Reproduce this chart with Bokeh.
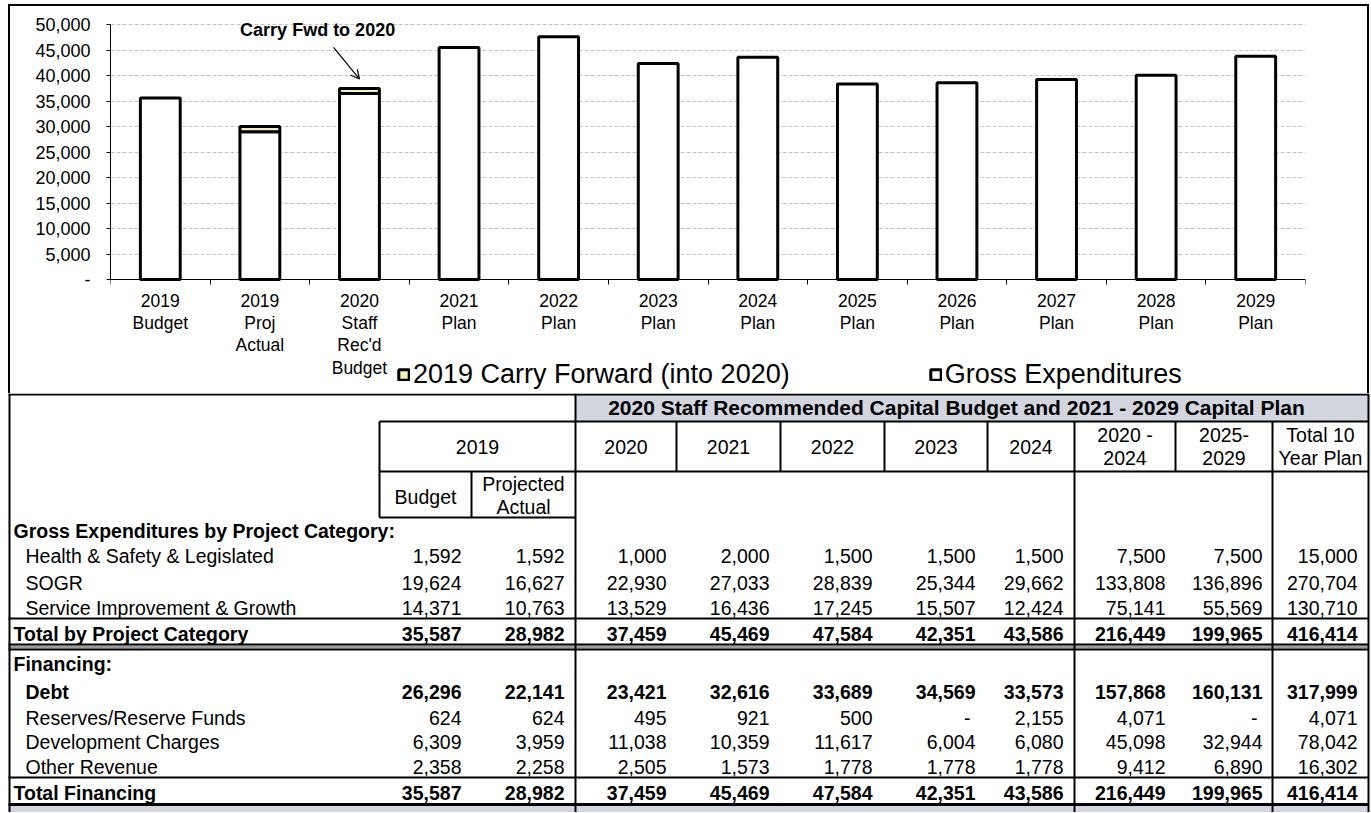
from bokeh.plotting import figure
from bokeh.models import (Range1d, LinearAxis, FixedTicker,
                          NumeralTickFormatter, ColumnDataSource, Legend, LegendItem,
                          Label, Arrow, OpenHead, Grid)
from bokeh.layouts import column
from bokeh.embed import file_html
from bokeh.resources import INLINE
from bokeh.core.properties import value

FONT = "Liberation Sans"

# ---------------- chart data ----------------
categories = ["2019\nBudget", "2019\nProj\nActual", "2020\nStaff\nRec'd\nBudget",
              "2021\nPlan", "2022\nPlan", "2023\nPlan", "2024\nPlan", "2025\nPlan",
              "2026\nPlan", "2027\nPlan", "2028\nPlan", "2029\nPlan"]
gross_expenditures = [35587, 28982, 36459, 45469, 47584, 42351, 43586,
                      38340, 38560, 39230, 40050, 43785]
carry_forward = [0, 1000, 1000, 0, 0, 0, 0, 0, 0, 0, 0, 0]
y_ticks = [0, 5000, 10000, 15000, 20000, 25000, 30000, 35000, 40000, 45000, 50000]
legend_labels = ["2019 Carry Forward (into 2020)", "Gross Expenditures"]
annotation_text = "Carry Fwd to 2020"

# ---------------- table data ----------------
table_title = "2020 Staff Recommended Capital Budget and 2021 - 2029 Capital Plan"
group_2019 = "2019"
sub_2019 = ["Budget", "Projected\nActual"]
plan_columns = ["2020", "2021", "2022", "2023", "2024", "2020 -\n2024", "2025-\n2029",
                "Total 10\nYear Plan"]
section_expenditures = "Gross Expenditures by Project Category:"
section_financing = "Financing:"
health_safety = [1592, 1592, 1000, 2000, 1500, 1500, 1500, 7500, 7500, 15000]
sogr = [19624, 16627, 22930, 27033, 28839, 25344, 29662, 133808, 136896, 270704]
service_improvement = [14371, 10763, 13529, 16436, 17245, 15507, 12424, 75141, 55569, 130710]
total_by_category = [35587, 28982, 37459, 45469, 47584, 42351, 43586, 216449, 199965, 416414]
debt = [26296, 22141, 23421, 32616, 33689, 34569, 33573, 157868, 160131, 317999]
reserves = [624, 624, 495, 921, 500, 0, 2155, 4071, 0, 4071]
development_charges = [6309, 3959, 11038, 10359, 11617, 6004, 6080, 45098, 32944, 78042]
other_revenue = [2358, 2258, 2505, 1573, 1778, 1778, 1778, 9412, 6890, 16302]
total_financing = [35587, 28982, 37459, 45469, 47584, 42351, 43586, 216449, 199965, 416414]

table_rows = [
    ("Health & Safety & Legislated", health_safety, False, True),
    ("SOGR", sogr, False, True),
    ("Service Improvement & Growth", service_improvement, False, True),
    ("Total by Project Category", total_by_category, True, False),
    ("Debt", debt, True, True),
    ("Reserves/Reserve Funds", reserves, False, True),
    ("Development Charges", development_charges, False, True),
    ("Other Revenue", other_revenue, False, True),
    ("Total Financing", total_financing, True, False),
]

# ---------------- sizes ----------------
W = 1370
CH = 393
TH = 419
FRAME_TOP, PLOT_TOP, PLOT_ZERO = 6, 24, 279   # pixel rows: frame top, 50,000 and 0
Y_MAX = 50000
PX = Y_MAX / (PLOT_ZERO - PLOT_TOP)            # value per pixel
Y_MIN = -PX * (CH - PLOT_ZERO)
Y_TOP = Y_MAX + PX * (PLOT_TOP - FRAME_TOP)

# ---------------- chart ----------------
n = len(categories)
centers_x = [i + 0.5 for i in range(n)]

box_bg = ("linear-gradient(#000,#000) 8px 4px / 1361px 2px no-repeat, "
          "linear-gradient(#000,#000) 8px 4px / 2px 389px no-repeat, "
          "linear-gradient(#000,#000) 1367px 4px / 2px 389px no-repeat, #fff")

chart = figure(width=W, height=CH,
               x_range=Range1d(0, n), y_range=Range1d(Y_MIN, Y_TOP),
               output_backend="svg", toolbar_location=None,
               x_axis_location=None, y_axis_location=None,
               min_border_left=110, min_border_right=65, min_border_top=FRAME_TOP,
               min_border_bottom=0, outline_line_color=None,
               border_fill_color=None, background_fill_color=None,
               frame_align=False, styles={"background": box_bg})
for g in chart.grid:
    g.visible = False

y_axis = LinearAxis(ticker=FixedTicker(ticks=y_ticks), bounds=(0, Y_MAX),
                    formatter=NumeralTickFormatter(format="0,0"),
                    major_label_overrides={0: "-"},
                    major_tick_out=4, major_tick_in=0, major_label_standoff=16,
                    axis_line_color="black", major_tick_line_color="black",
                    major_label_text_font=FONT, major_label_text_font_size="18px",
                    major_label_text_color="black")
chart.add_layout(y_axis, "left")

tick_axis = LinearAxis(ticker=FixedTicker(ticks=list(range(n + 1))), fixed_location=0,
                       major_label_overrides={i: "" for i in range(n + 1)},
                       major_tick_out=5, major_tick_in=0, major_label_standoff=0,
                       axis_line_color="black", major_tick_line_color="black",
                       major_label_text_font_size="1px")
chart.add_layout(tick_axis, "below")

cat_axis = LinearAxis(ticker=FixedTicker(ticks=centers_x), fixed_location=0,
                      major_label_overrides={c: lab for c, lab in zip(centers_x, categories)},
                      axis_line_color=None, major_tick_line_color=None,
                      major_tick_out=0, major_tick_in=0, major_label_standoff=11,
                      major_label_text_font=FONT, major_label_text_font_size="17.5px",
                      major_label_text_color="black",
                      major_label_text_line_height=1.12)
chart.add_layout(cat_axis, "below")

chart.add_layout(Grid(dimension=1, ticker=FixedTicker(ticks=y_ticks), grid_line_color="#c4c4c4",
                      grid_line_dash="4 2", grid_line_width=1))

src = ColumnDataSource(dict(x=centers_x, gross=gross_expenditures))
gross_r = chart.vbar(x="x", top="gross", bottom=0, width=0.4, source=src,
                     fill_color="white", line_color="black", line_width=3)

cf_x, cf_bottom, cf_top = [], [], []
for c, g, v in zip(centers_x, gross_expenditures, carry_forward):
    if v > 0:
        cf_x.append(c)
        cf_bottom.append(g)
        cf_top.append(g + v)
cf_src = ColumnDataSource(dict(x=cf_x, bottom=cf_bottom, top=cf_top))
carry_r = chart.vbar(x="x", bottom="bottom", top="top", width=0.4, source=cf_src,
                     fill_color="#f3efbf", line_color="black", line_width=3)

legend = Legend(items=[LegendItem(label=legend_labels[0], renderers=[carry_r]),
                       LegendItem(label=legend_labels[1], renderers=[gross_r])],
                location=(287, 3), orientation="horizontal",
                glyph_width=13, glyph_height=13, label_standoff=3, spacing=139,
                padding=0, margin=0, border_line_color=None,
                background_fill_color=None, label_text_font=FONT,
                label_text_font_size="27px", label_height=27,
                label_text_color="black")
chart.add_layout(legend)

chart.add_layout(Label(x=2.08, y=49000, text=annotation_text,
                       text_align="center", text_baseline="middle", text_font=FONT,
                       text_font_size="18px", text_font_style="bold",
                       text_color="black"))
chart.add_layout(Arrow(end=OpenHead(size=9, line_width=1.2, line_color="black"),
                       x_start=2.24, y_start=45500, x_end=2.5, y_end=39300,
                       line_width=1.2, line_color="black"))

# ---------------- table ----------------
table = figure(width=W, height=TH, x_range=Range1d(0, W), y_range=Range1d(393 + TH, 393),
               output_backend="svg", toolbar_location=None,
               x_axis_location=None, y_axis_location=None,
               min_border=0, outline_line_color=None, frame_align=False)
for g in table.grid:
    g.visible = False

value_right = [461, 564, 666, 769, 872, 975, 1063, 1165, 1262, 1357]
plan_bounds = [575, 676, 780, 884, 987, 1074, 1175, 1272, 1368]
row_y = [555, 582, 607, 633, 691, 717, 741, 766, 792]
R = 1368

# fills
table.quad(left=[575, 8, 8], right=[R, R, R], top=[394, 645, 805],
           bottom=[421, 648, 813], fill_color=["#d3d6de", "#9c9c9c", "#d3d6de"],
           line_color=None)

# grid lines of the table
h = [(8, R, 394), (379, R, 421), (379, R, 471), (379, 575, 517),
     (8, R, 618), (8, R, 644), (8, R, 649), (8, R, 777)]
v = [(9, 393, 813), (R, 393, 813), (379, 421, 517), (471, 471, 517),
     (575, 393, 813), (676, 421, 471), (780, 421, 471), (884, 421, 471),
     (987, 421, 471), (1175, 421, 471), (1074, 421, 813), (1272, 421, 813)]
table.segment(x0=[a for a, b, y in h] + [x for x, a, b in v],
              x1=[b for a, b, y in h] + [x for x, a, b in v],
              y0=[y for a, b, y in h] + [a for x, a, b in v],
              y1=[y for a, b, y in h] + [b for x, a, b in v],
              line_color="black", line_width=2)
table.segment(x0=[8], x1=[R], y0=[804], y1=[804], line_color="black", line_width=3)


def draw_text(xs, ys, texts, align, bold=False, size="19.5px", lh=1.05):
    s = ColumnDataSource(dict(x=xs, y=ys, t=texts))
    table.text(x="x", y="y", text="t", source=s, text_align=align,
               text_baseline="middle", text_font=value(FONT), text_font_size=size,
               text_font_style="bold" if bold else "normal", text_color="black",
               text_line_height=lh)


draw_text([956], [407], [table_title], "center", bold=True, size="21px")
centers = [(plan_bounds[i] + plan_bounds[i + 1]) / 2 for i in range(len(plan_columns))]
draw_text([477] + centers, [446] * (len(plan_columns) + 1), [group_2019] + plan_columns,
          "center")
draw_text([425, 523], [496, 495], sub_2019, "center")
draw_text([13, 13], [530, 663], [section_expenditures, section_financing], "left", bold=True)

for (label, vals, bold, indent), y in zip(table_rows, row_y):
    draw_text([25 if indent else 13], [y], [label], "left", bold=bold)
    xs = [value_right[j] - (5 if vals[j] == 0 else 0) for j in range(len(vals))]
    texts = [f"{x:,}" if x else "-" for x in vals]
    draw_text(xs, [y] * len(vals), texts, "right", bold=bold)

layout = column(chart, table)
open("out.html", "w").write(file_html(layout, INLINE))
